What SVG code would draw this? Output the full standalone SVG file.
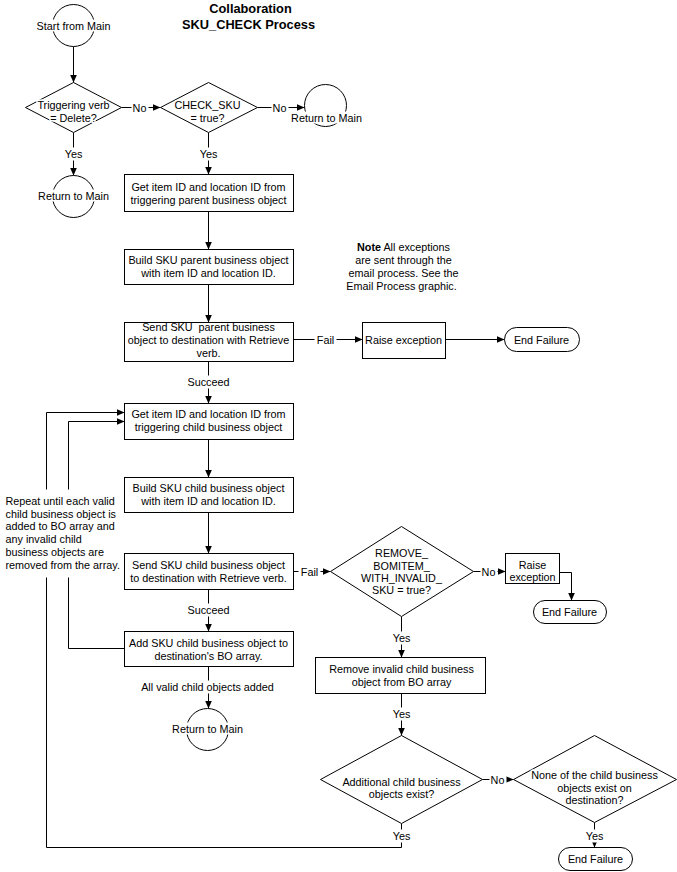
<svg xmlns="http://www.w3.org/2000/svg" width="677" height="872" viewBox="0 0 677 872">
<defs>
<marker id="ah" viewBox="0 0 8 7" refX="8" refY="3.5" markerWidth="8" markerHeight="7" markerUnits="userSpaceOnUse" orient="auto">
<path d="M0,0 L8,3.5 L0,7 z" fill="#000"/>
</marker>
<style>
.n{fill:#fff;stroke:#000;stroke-width:1}
.c{fill:none;stroke:#000;stroke-width:1;marker-end:url(#ah)}
.t{font-family:"Liberation Sans",Arial,sans-serif;font-size:10.8px;text-anchor:middle;fill:#000}
.h{stroke:#fff;stroke-width:3;paint-order:stroke;stroke-linejoin:round}
.l{text-anchor:start}
.bg{fill:#fff;stroke:none}
.ti{font-family:"Liberation Sans",Arial,sans-serif;font-size:12.8px;font-weight:bold;text-anchor:middle;fill:#000}
</style>
</defs>
<rect width="677" height="872" fill="#fff"/>
<g transform="translate(0.5 0.5)">
<g id="title">
<text class="ti" x="250" y="12">Collaboration</text>
<text class="ti" x="248" y="28">SKU_CHECK Process</text>
</g>
<g id="connectors">
<path class="c" d="M73,46 V82"/>
<path class="c" d="M121,107 H160"/>
<path class="c" d="M257,107 H304"/>
<path class="c" d="M73,132 V175"/>
<path class="c" d="M208,132 V174"/>
<path class="c" d="M208,211 V249"/>
<path class="c" d="M208,284 V322"/>
<path class="c" d="M293,339 H362"/>
<path class="c" d="M445,339 H504"/>
<path class="c" d="M208,361 V403"/>
<path class="c" d="M208,439 V477"/>
<path class="c" d="M208,512 V553"/>
<path class="c" d="M293,571 H330"/>
<path class="c" d="M208,589 V631"/>
<path class="c" d="M208,666 V708"/>
<path class="c" d="M473,571 H505"/>
<path class="c" d="M559,572 H571 V600"/>
<path class="c" d="M401,616 V657"/>
<path class="c" d="M401,693 V735"/>
<path class="c" d="M482,779 H513"/>
<path class="c" d="M594,822 V847"/>
<path class="c" d="M401,823 V847 H46 V412 H124"/>
<path class="c" d="M124,648 H68 V421 H124"/>
<g id="connector-labels">
<rect class="bg" x="131" y="101" width="17" height="12"/><text class="t" x="139" y="111">No</text>
<rect class="bg" x="271" y="101" width="17" height="12"/><text class="t" x="279" y="111">No</text>
<rect class="bg" x="62" y="147" width="22" height="13"/><text class="t" x="73" y="157">Yes</text>
<rect class="bg" x="197" y="147" width="22" height="13"/><text class="t" x="208" y="157">Yes</text>
<rect class="bg" x="314" y="333" width="22" height="12"/><text class="t" x="325" y="343">Fail</text>
<rect class="bg" x="186" y="375" width="44" height="13"/><text class="t" x="208" y="385">Succeed</text>
<rect class="bg" x="298" y="565" width="22" height="12"/><text class="t" x="309" y="575">Fail</text>
<rect class="bg" x="480" y="565" width="17" height="12"/><text class="t" x="488" y="575">No</text>
<rect class="bg" x="390" y="631" width="22" height="13"/><text class="t" x="401" y="641">Yes</text>
<rect class="bg" x="186" y="603" width="44" height="13"/><text class="t" x="208" y="613">Succeed</text>
<rect class="bg" x="137" y="680" width="140" height="13"/><text class="t" x="207" y="690">All valid child objects added</text>
<rect class="bg" x="390" y="707" width="22" height="13"/><text class="t" x="401" y="717">Yes</text>
<rect class="bg" x="489" y="773" width="17" height="12"/><text class="t" x="497" y="783">No</text>
<rect class="bg" x="390" y="829" width="22" height="13"/><text class="t" x="401" y="839">Yes</text>
<rect class="bg" x="583" y="829" width="22" height="13"/><text class="t" x="594" y="839">Yes</text>
</g>
<g id="loop-label">
<rect class="bg" x="3" y="489" width="120" height="88"/>
<text class="t l" x="5" y="504">Repeat until each valid</text>
<text class="t l" x="5" y="517">child business object is</text>
<text class="t l" x="5" y="529">added to BO array and</text>
<text class="t l" x="5" y="542">any invalid child</text>
<text class="t l" x="5" y="555">business objects are</text>
<text class="t l" x="5" y="568">removed from the array.</text>
</g>
</g>
<g id="start">
<circle class="n" cx="73" cy="25" r="21"/>
<rect class="bg" x="35" y="19" width="76" height="12"/>
<text class="t" x="73" y="29">Start from Main</text>
</g>
<g id="d-trigger">
<polygon class="n" points="25,107 73,82 121,107 73,132"/>
<text class="t h" x="73" y="108">Triggering verb</text>
<text class="t h" x="73" y="121">= Delete?</text>
</g>
<g id="d-checksku">
<polygon class="n" points="160,107 208,82 257,107 208,132"/>
<text class="t h" x="207" y="108">CHECK_SKU</text>
<text class="t h" x="207" y="121">= true?</text>
</g>
<g id="return1">
<circle class="n" cx="325" cy="105" r="21"/>
<rect class="bg" x="290" y="111" width="72" height="12"/>
<text class="t" x="326" y="121">Return to Main</text>
</g>
<g id="return2">
<circle class="n" cx="73" cy="196" r="21"/>
<rect class="bg" x="37" y="189" width="72" height="12"/>
<text class="t" x="73" y="199">Return to Main</text>
</g>
<g id="b-get-parent">
<rect class="n" x="124" y="174" width="169" height="37"/>
<text class="t" x="208" y="190">Get item ID and location ID from</text>
<text class="t" x="208" y="203">triggering parent business object</text>
</g>
<g id="b-build-parent">
<rect class="n" x="124" y="249" width="169" height="35"/>
<text class="t" x="208" y="263">Build SKU parent business object</text>
<text class="t" x="208" y="276">with item ID and location ID.</text>
</g>
<g id="b-send-parent">
<rect class="n" x="124" y="322" width="169" height="39"/>
<text class="t" x="208" y="330" xml:space="preserve">Send SKU  parent business</text>
<text class="t" x="208" y="343">object to destination with Retrieve</text>
<text class="t" x="208" y="356">verb.</text>
</g>
<g id="raise1">
<rect class="n" x="362" y="322" width="83" height="36"/>
<text class="t" x="403" y="343">Raise exception</text>
</g>
<g id="end1">
<rect class="n" x="504" y="327" width="75" height="24" rx="12" ry="12"/>
<text class="t" x="541" y="343">End Failure</text>
</g>
<g id="note">
<text class="t" x="403" y="250"><tspan font-weight="bold">Note</tspan> All exceptions</text>
<text class="t" x="403" y="263">are sent through the</text>
<text class="t" x="403" y="276">email process. See the</text>
<text class="t" x="401" y="289">Email Process graphic.</text>
</g>
<g id="b-get-child">
<rect class="n" x="124" y="403" width="169" height="36"/>
<text class="t" x="208" y="417">Get item ID and location ID from</text>
<text class="t" x="208" y="430">triggering child business object</text>
</g>
<g id="b-build-child">
<rect class="n" x="124" y="477" width="169" height="35"/>
<text class="t" x="208" y="491">Build SKU child business object</text>
<text class="t" x="208" y="504">with item ID and location ID.</text>
</g>
<g id="b-send-child">
<rect class="n" x="124" y="553" width="169" height="36"/>
<text class="t" x="208" y="568">Send SKU child business object</text>
<text class="t" x="208" y="581">to destination with Retrieve verb.</text>
</g>
<g id="b-add-child">
<rect class="n" x="124" y="631" width="169" height="35"/>
<text class="t" x="208" y="646">Add SKU child business object to</text>
<text class="t" x="208" y="659">destination's BO array.</text>
</g>
<g id="return3">
<circle class="n" cx="207" cy="729" r="21"/>
<rect class="bg" x="171" y="722" width="72" height="12"/>
<text class="t" x="207" y="732">Return to Main</text>
</g>
<g id="d-remove">
<polygon class="n" points="330,571 401,526 473,571 401,616"/>
<text class="t h" x="401" y="556">REMOVE_</text>
<text class="t h" x="401" y="569">BOMITEM_</text>
<text class="t h" x="401" y="581">WITH_INVALID_</text>
<text class="t h" x="401" y="593">SKU = true?</text>
</g>
<g id="raise2">
<rect class="n" x="505" y="553" width="54" height="30"/>
<text class="t" x="532" y="568">Raise</text>
<text class="t" x="532" y="580">exception</text>
</g>
<g id="end2">
<rect class="n" x="533" y="600" width="73" height="23" rx="11.5" ry="11.5"/>
<text class="t" x="569" y="615">End Failure</text>
</g>
<g id="b-remove">
<rect class="n" x="315" y="657" width="170" height="36"/>
<text class="t" x="401" y="672">Remove invalid child business</text>
<text class="t" x="401" y="685">object from BO array</text>
</g>
<g id="d-additional">
<polygon class="n" points="320,779 401,735 482,779 401,823"/>
<text class="t h" x="401" y="785">Additional child business</text>
<text class="t h" x="401" y="797">objects exist?</text>
</g>
<g id="d-none">
<polygon class="n" points="513,779 594,735 676,779 594,822"/>
<text class="t h" x="594" y="778">None of the child business</text>
<text class="t h" x="594" y="791">objects exist on</text>
<text class="t h" x="594" y="803">destination?</text>
</g>
<g id="end3">
<rect class="n" x="558" y="847" width="74" height="23" rx="11.5" ry="11.5"/>
<text class="t" x="595" y="862">End Failure</text>
</g>
</g>
</svg>
